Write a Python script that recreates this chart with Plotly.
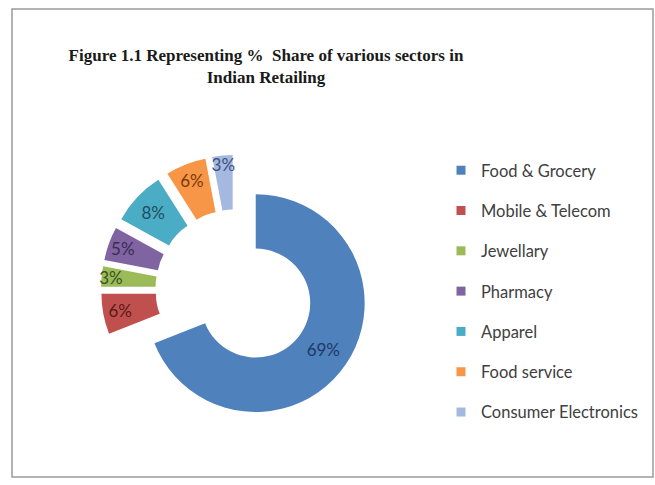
import plotly.graph_objects as go

# ---- data ----
sectors = ["Food & Grocery", "Mobile & Telecom", "Jewellary", "Pharmacy",
           "Apparel", "Food service", "Consumer Electronics"]
shares = [69, 6, 3, 5, 8, 6, 3]

title_text = "Figure 1.1 Representing %  Share of various sectors in<br>Indian Retailing"

# ---- styles ----
colors = ["#4F81BD", "#C0504D", "#9BBB59", "#8064A2", "#4BACC6", "#F79646", "#A5B8E0"]
label_colors = ["#1F3864", "#5A1A1A", "#3D4F1F", "#3A2A55", "#1E4E5E", "#7A3A0A", "#3C4F80"]
sans = "Lato, Liberation Sans, Arial"
serif = "Liberation Serif, Times New Roman, serif"

W, H = 655, 485
cx, cy, half = 235, 289, 134  # pie box centre and half-size in px

fig = go.Figure()
fig.add_trace(go.Pie(
    labels=sectors,
    values=shares,
    hole=0.5,
    pull=[0.23] * len(shares),
    sort=False,
    direction="clockwise",
    rotation=0,
    marker=dict(colors=colors, line=dict(color="white", width=0)),
    texttemplate="%{value}%",
    textposition="inside",
    insidetextorientation="horizontal",
    textfont=dict(family=sans, size=17, color=label_colors),
    showlegend=False,
    domain=dict(x=[(cx - half) / W, (cx + half) / W],
                y=[(H - cy - half) / H, (H - cy + half) / H]),
))

# legend entries, one per sector
for name, c in zip(sectors, colors):
    fig.add_trace(go.Scatter(
        x=[None], y=[None], mode="markers", name=name, legendgroup=name,
        marker=dict(symbol="square", size=9, color=c),
        showlegend=True, hoverinfo="skip",
    ))

fig.update_layout(
    width=W, height=H,
    margin=dict(l=0, r=0, t=0, b=0, autoexpand=False),
    paper_bgcolor="white", plot_bgcolor="white",
    xaxis=dict(visible=False), yaxis=dict(visible=False),
    title=dict(text=title_text, x=266 / W, xanchor="center", xref="paper",
               y=1 - 61 / H, yanchor="top", yref="container",
               font=dict(family=serif, size=17, color="#1a1a1a", weight="bold")),
    legend=dict(x=441 / W, xanchor="left", y=1 - 153 / H, yanchor="top",
                traceorder="grouped", tracegroupgap=15.85,
                font=dict(family=sans, size=16.5, color="#404040"),
                bgcolor="rgba(0,0,0,0)", borderwidth=0),
    uniformtext=dict(mode="show", minsize=16),
    shapes=[dict(type="rect", xref="paper", yref="paper",
                 x0=12 / W, x1=653 / W, y0=(H - 477) / H, y1=(H - 9) / H,
                 line=dict(color="#9a9a9a", width=1.5), fillcolor="rgba(0,0,0,0)",
                 layer="below")],
)

fig.write_html("out.html")
